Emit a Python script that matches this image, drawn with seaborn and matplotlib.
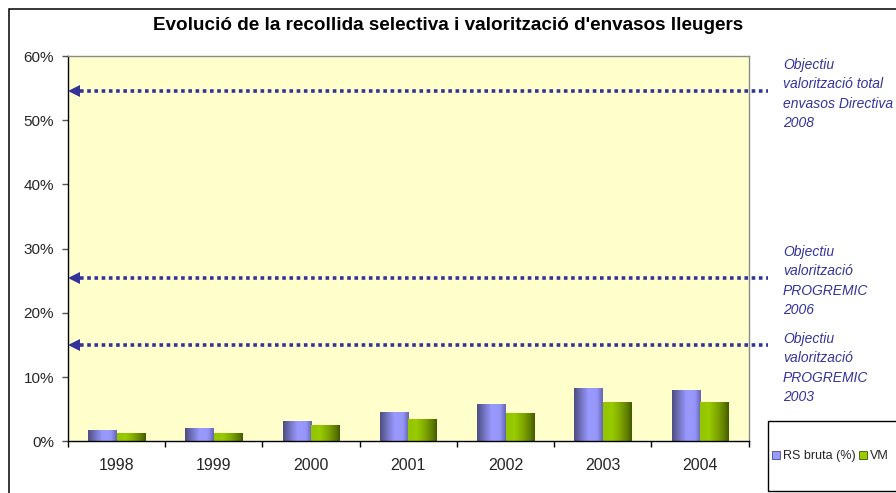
import numpy as np
import pandas as pd
import matplotlib
matplotlib.use("Agg")
import matplotlib.pyplot as plt
import matplotlib.transforms as mtrans
from matplotlib.colors import LinearSegmentedColormap
from matplotlib.patches import Rectangle, Patch
import seaborn as sns

# ---- data -------------------------------------------------------------
years = ["1998", "1999", "2000", "2001", "2002", "2003", "2004"]
rs_bruta = [1.8, 2.1, 3.2, 4.6, 5.8, 8.3, 8.0]      # recollida selectiva bruta (%)
vm = [1.3, 1.3, 2.6, 3.5, 4.4, 6.1, 6.1]            # valorització material (%)
series_names = ["RS bruta (%)", "VM"]
target_values = [54.6, 25.4, 15.0]
target_labels = [
    "Objectiu\nvalorització total\nenvasos Directiva\n2008",
    "Objectiu\nvalorització\nPROGREMIC\n2006",
    "Objectiu\nvalorització\nPROGREMIC\n2003",
]
y_ticks = [0, 10, 20, 30, 40, 50, 60]
y_tick_labels = ["0%", "10%", "20%", "30%", "40%", "50%", "60%"]
title = "Evolució de la recollida selectiva i valorització d'envasos lleugers"

df = pd.DataFrame({
    "year": years * 2,
    "value": rs_bruta + vm,
    "series": [series_names[0]] * len(years) + [series_names[1]] * len(years),
})

# ---- style ------------------------------------------------------------
sns.set_style("white")
plt.rcParams["font.family"] = ["Liberation Sans", "DejaVu Sans"]

W, H = 896, 493
fig = plt.figure(figsize=(W / 100, H / 100), dpi=100)
fig.patch.set_facecolor("white")
ax = fig.add_axes([68 / W, 1 - 441.3 / H, (748.7 - 68) / W, (441.3 - 56) / H])
ax.set_facecolor("#ffffcc")

blue = "#9999ff"
green = "#99cc00"
sns.barplot(data=df, x="year", y="value", hue="series", palette=[blue, green],
            width=0.587, saturation=1, legend=False, ax=ax, linewidth=0)

# cylinder-like shading on each bar
blue_cmap = LinearSegmentedColormap.from_list(
    "bl", [(0, "#4e4e82"), (0.25, "#7474c2"), (0.5, "#9999ff"),
           (0.8, "#9696fa"), (1.0, "#6666b0")])
green_cmap = LinearSegmentedColormap.from_list(
    "gr", [(0, "#92c400"), (0.3, "#99cc00"), (0.6, "#7fa600"),
           (0.85, "#5e7d00"), (1.0, "#435a00")])
grad = np.linspace(0, 1, 64).reshape(1, -1)
n = len(years)
for i, p in enumerate(ax.patches):
    bb = p.get_bbox()
    cmap = blue_cmap if i < n else green_cmap
    im = ax.imshow(grad, cmap=cmap, aspect="auto", interpolation="bilinear",
                   extent=(bb.x0, bb.x1, bb.y0, bb.y1), zorder=p.get_zorder() + 0.1)
    im.set_clip_path(p)

ax.set_xlim(-0.5, n - 0.5)
ax.set_ylim(0, 60)
ax.set_xlabel("")
ax.set_ylabel("")

# axes / ticks
for s in ["left", "bottom"]:
    ax.spines[s].set_color("black")
    ax.spines[s].set_linewidth(1.0)
for s in ["top", "right"]:
    ax.spines[s].set_color("#8a8a8a")
    ax.spines[s].set_linewidth(1.0)
ax.set_yticks(y_ticks)
ax.set_yticklabels(y_tick_labels)
ax.set_xticks(range(n))
ax.set_xticklabels(years)
ax.set_xticks(np.arange(-0.5, n, 1.0), minor=True)
ax.tick_params(axis="y", which="major", direction="out", length=4, width=1,
               color="#555555", labelsize=11, pad=6, left=True)
ax.tick_params(axis="x", which="major", length=0, labelsize=11.5, pad=12)
ax.tick_params(axis="x", which="minor", direction="out", length=4, width=1,
               color="black", bottom=True)

# target arrows
navy = "#333399"
btrans = mtrans.blended_transform_factory(ax.transAxes, ax.transData)
head_trans = mtrans.offset_copy(btrans, fig=fig, x=4, units="points")
for v in target_values:
    ax.plot([0.017, 1.028], [v, v], transform=btrans, color=navy, lw=2.6,
            linestyle=(0, (1, 1)), dash_capstyle="butt", clip_on=False, zorder=5)
    ax.plot([0], [v], transform=head_trans, marker="<", markersize=8.5,
            color=navy, markeredgewidth=0, clip_on=False, zorder=6)

label_tops = [58, 245, 332]
for txt, top in zip(target_labels, label_tops):
    fig.text(783 / W, 1 - top / H, txt, ha="left", va="top", fontsize=10,
             style="italic", color=navy, linespacing=1.48)

# title
fig.text(0.5, 1 - 26 / H, title, ha="center", va="center", fontsize=13.6,
         weight="bold", color="black")

# outer chart border (continues past the canvas)
fig.patches.append(Rectangle((8.5 / W, -0.2), 1.5, 1.2 - 8.5 / H,
                             transform=fig.transFigure, fill=False,
                             edgecolor="black", lw=1.1))

# legend box
fig.patches.append(Rectangle((768 / W, 1 - 491 / H), 0.3, 70 / H,
                             transform=fig.transFigure, facecolor="white",
                             edgecolor="black", lw=1.0, zorder=3))
handles = [Patch(facecolor=blue, edgecolor="#4a4a7c", lw=0.6),
           Patch(facecolor=green, edgecolor="#405500", lw=0.6)]
leg = fig.legend(handles, series_names, loc="center left",
                 bbox_to_anchor=(772 / W, 1 - 456 / H), ncol=2, frameon=False,
                 fontsize=9, handlelength=0.6, handleheight=0.6,
                 handletextpad=0.3, columnspacing=0.25, borderpad=0,
                 borderaxespad=0)
leg.set_zorder(4)

fig.savefig("out.png", dpi=100)
